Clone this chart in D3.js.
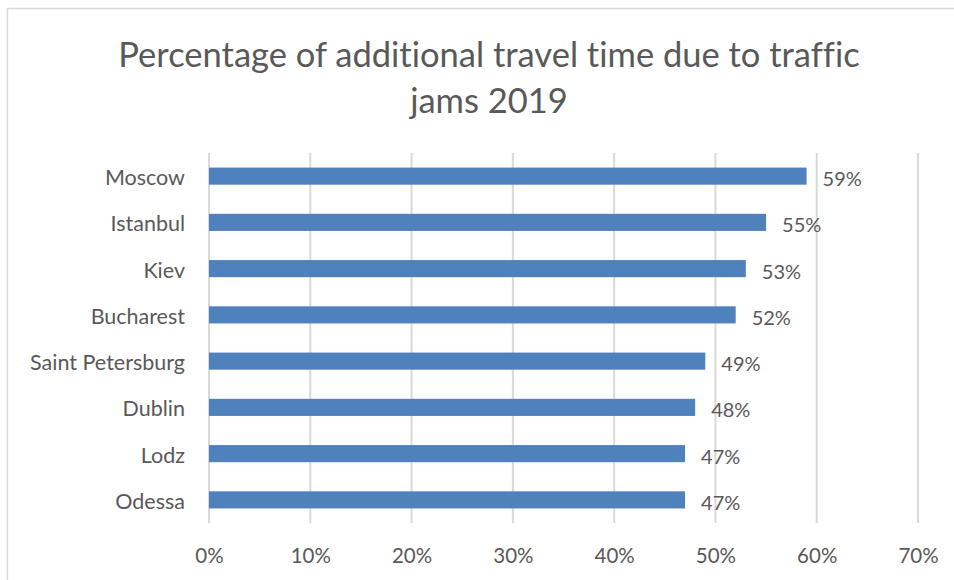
<!DOCTYPE html>
<html>
<head>
<meta charset="utf-8">
<script src="https://cdn.jsdelivr.net/npm/d3@7"></script>
<style>
    body { margin: 0; background: #fff; }
    text { font-family: Lato, "Open Sans", sans-serif; fill: #595959; font-variant-ligatures: none; }
</style>
</head>
<body>
<script>
var cities = ["Moscow", "Istanbul", "Kiev", "Bucharest", "Saint Petersburg", "Dublin", "Lodz", "Odessa"];
var delays = [0.59, 0.55, 0.53, 0.52, 0.49, 0.48, 0.47, 0.47];
var ticks = [0, 0.1, 0.2, 0.3, 0.4, 0.5, 0.6, 0.7];
var titleLines = ["Percentage of additional travel time due to traffic", "jams 2019"];

var _width = 954;
var _height = 580;
var _margin = {top: 153, left: 209, right: 36, bottom: 57};

var svg = d3.select("body").append("svg")
    .attr("width", _width)
    .attr("height", _height);

// chart frame, runs off the right and bottom edges like the original
svg.append("rect")
    .attr("x", 7.5)
    .attr("y", 8.5)
    .attr("width", _width + 20)
    .attr("height", _height + 20)
    .attr("fill", "none")
    .attr("stroke", "#d9d9d9")
    .attr("stroke-width", 1.5);

svg.append("text")
    .attr("text-anchor", "middle")
    .attr("font-size", "34.5px")
    .selectAll("tspan")
    .data(titleLines)
    .enter().append("tspan")
    .attr("x", 489)
    .attr("y", function (d, i) { return 67 + i * 46; })
    .text(function (d) { return d; });

var x = d3.scaleLinear()
    .domain([0, 0.7])
    .range([_margin.left, _width - _margin.right]);

var y = d3.scaleBand()
    .domain(cities)
    .range([_margin.top, _height - _margin.bottom])
    .paddingInner(0.63)
    .paddingOuter(0.315);

var plot = svg.append("g");

plot.selectAll("line.grid")
    .data(ticks)
    .enter().append("line")
    .attr("class", "grid")
    .attr("x1", function (d) { return x(d); })
    .attr("x2", function (d) { return x(d); })
    .attr("y1", _margin.top)
    .attr("y2", _height - _margin.bottom)
    .attr("stroke", "#d9d9d9")
    .attr("stroke-width", 2);

var xAxis = d3.axisBottom(x)
    .tickValues(ticks)
    .tickFormat(d3.format(".0%"))
    .tickSize(0)
    .tickPadding(0);

svg.append("g")
    .attr("transform", "translate(0," + (_height - 17) + ")")
    .call(xAxis)
    .call(function (g) { g.select(".domain").remove(); })
    .selectAll("text")
    .attr("dy", 0)
    .attr("font-size", "20.5px")
    .attr("font-family", "Lato, sans-serif")
    .attr("fill", "#595959");

var yAxis = d3.axisLeft(y)
    .tickSize(0)
    .tickPadding(24);

svg.append("g")
    .attr("transform", "translate(" + _margin.left + ",0)")
    .call(yAxis)
    .call(function (g) { g.select(".domain").remove(); })
    .selectAll("text")
    .attr("dy", "0.42em")
    .attr("font-size", "21.5px")
    .attr("font-family", "Lato, sans-serif")
    .attr("fill", "#595959");

var rows = cities.map(function (c, i) { return {city: c, value: delays[i]}; });

plot.selectAll("rect.bar")
    .data(rows)
    .enter().append("rect")
    .attr("class", "bar")
    .attr("x", x(0))
    .attr("y", function (d) { return y(d.city); })
    .attr("width", function (d) { return x(d.value) - x(0); })
    .attr("height", y.bandwidth())
    .attr("fill", "#4f81bd");

plot.selectAll("text.value")
    .data(rows)
    .enter().append("text")
    .attr("class", "value")
    .attr("x", function (d) { return x(d.value) + 16; })
    .attr("y", function (d) { return y(d.city) + y.bandwidth() / 2; })
    .attr("dy", "0.5em")
    .attr("font-size", "20px")
    .text(function (d) { return d3.format(".0%")(d.value); });
</script>
</body>
</html>
